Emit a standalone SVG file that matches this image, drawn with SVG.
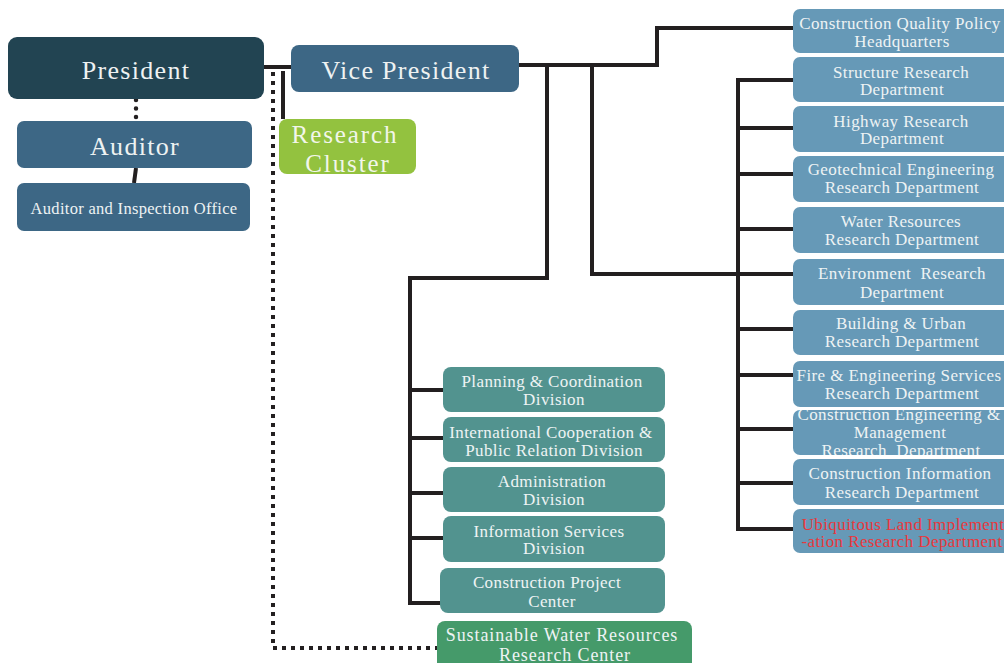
<svg xmlns="http://www.w3.org/2000/svg" width="1004" height="663" viewBox="0 0 1004 663">
<defs>
<style>
.big{font-family:"Liberation Serif","Times New Roman",serif;font-size:26px;letter-spacing:1.3px;fill:#eef2f2;text-anchor:middle}
.rc{font-family:"Liberation Serif","Times New Roman",serif;font-size:25px;letter-spacing:1.9px;fill:#f2f6ea;text-anchor:middle}
.t{font-family:"Liberation Serif","Times New Roman",serif;font-size:17px;letter-spacing:0.4px;fill:#eef3f4;text-anchor:middle}
.red{fill:#e8383d}
.pres{fill:#224452}
.blue{fill:#3d6785}
.lblue{fill:#6699b7}
.teal{fill:#52938f}
.green{fill:#459a6a}
.lime{fill:#93c23f}
.ln{fill:none;stroke:#231f20;stroke-width:4;stroke-linejoin:miter}
.dot{fill:none;stroke:#231f20;stroke-width:4;stroke-dasharray:4 5}
.rdot{fill:none;stroke:#231f20;stroke-width:4.5;stroke-linecap:round;stroke-dasharray:0 8.5}
</style>
<clipPath id="ceclip"><rect x="793" y="410" width="225" height="45" rx="7"/></clipPath>
</defs>
<rect width="1004" height="663" fill="#ffffff"/>

<g id="connectors">
<path class="ln" d="M264,67 H291"/>
<path class="ln" d="M283,71 V119"/>
<path class="dot" d="M273,72 V648 H440"/>
<path class="rdot" d="M136,100 V118"/>
<path class="ln" d="M136,168 L134,183"/>
<path class="ln" d="M518,65 H657 V28 H793"/>
<path class="ln" d="M547,63 V278 H410 V603 H443"/>
<path class="ln" d="M410,390 H443 M410,438 H443 M410,493 H443 M410,538 H443"/>
<path class="ln" d="M592,65 V274 H793"/>
<path class="ln" d="M793,529 H738 V80 H793"/>
<path class="ln" d="M738,128 H793 M738,174 H793 M738,229 H793 M738,329 H793 M738,375 H793 M738,429 H793 M738,483 H793"/>
</g>

<g id="president"><rect class="pres" x="8" y="37" width="256" height="62" rx="9"/><text class="big" x="136" y="79">President</text></g>
<g id="auditor"><rect class="blue" x="17" y="121" width="235" height="47" rx="7"/><text class="big" x="135" y="155">Auditor</text></g>
<g id="audit-office"><rect class="blue" x="17" y="183" width="233" height="48" rx="7"/><text class="t" x="134" y="214" style="font-size:16.5px;letter-spacing:0.3px">Auditor and Inspection Office</text></g>
<g id="vice-president"><rect class="blue" x="291" y="45" width="228" height="47" rx="8"/><text class="big" x="406" y="79">Vice President</text></g>
<g id="research-cluster"><rect class="lime" x="279" y="119" width="137" height="55" rx="8"/><text class="rc" x="345" y="143">Research</text><text class="rc" x="348" y="172">Cluster</text></g>

<g id="cqph"><rect class="lblue" x="793" y="9" width="225" height="44" rx="7"/><text class="t" x="900" y="28.5">Construction Quality Policy</text><text class="t" x="902" y="46.5">Headquarters</text></g>
<g id="structure"><rect class="lblue" x="793" y="57" width="225" height="45" rx="7"/><text class="t" x="901" y="78">Structure Research</text><text class="t" x="902" y="95">Department</text></g>
<g id="highway"><rect class="lblue" x="793" y="106" width="225" height="46" rx="7"/><text class="t" x="901" y="127">Highway Research</text><text class="t" x="902" y="144">Department</text></g>
<g id="geotech"><rect class="lblue" x="793" y="156" width="225" height="46" rx="7"/><text class="t" x="901" y="175">Geotechnical Engineering</text><text class="t" x="902" y="193">Research Department</text></g>
<g id="water"><rect class="lblue" x="793" y="207" width="225" height="46" rx="7"/><text class="t" x="901" y="227">Water Resources</text><text class="t" x="902" y="245">Research Department</text></g>
<g id="environment"><rect class="lblue" x="793" y="259" width="225" height="46" rx="7"/><text class="t" x="902" y="279">Environment&#160; Research</text><text class="t" x="902" y="298">Department</text></g>
<g id="building"><rect class="lblue" x="793" y="310" width="225" height="45" rx="7"/><text class="t" x="901" y="329">Building &amp; Urban</text><text class="t" x="902" y="347">Research Department</text></g>
<g id="fire"><rect class="lblue" x="793" y="361" width="225" height="46" rx="7"/><text class="t" x="899" y="381">Fire &amp; Engineering Services</text><text class="t" x="902" y="399">Research Department</text></g>
<g id="construction-eng"><rect class="lblue" x="793" y="410" width="225" height="45" rx="7"/><g clip-path="url(#ceclip)"><text class="t" x="899" y="420">Construction Engineering &amp;</text><text class="t" x="900" y="438">Management</text><text class="t" x="901" y="456">Research&#160; Department</text></g></g>
<g id="construction-info"><rect class="lblue" x="793" y="459" width="225" height="46" rx="7"/><text class="t" x="900" y="479">Construction Information</text><text class="t" x="902" y="498">Research Department</text></g>
<g id="ubiquitous"><rect class="lblue" x="793" y="509" width="225" height="44" rx="7"/><text class="t red" x="903" y="530">Ubiquitous Land Implement</text><text class="t red" x="902" y="547">-ation Research Department</text></g>

<g id="planning"><rect class="teal" x="443" y="367" width="222" height="45" rx="8"/><text class="t" x="552" y="387">Planning &amp; Coordination</text><text class="t" x="554" y="405">Division</text></g>
<g id="international"><rect class="teal" x="443" y="417" width="222" height="45" rx="8"/><text class="t" x="551" y="438">International Cooperation &amp;</text><text class="t" x="554" y="456">Public Relation Division</text></g>
<g id="administration"><rect class="teal" x="443" y="467" width="222" height="45" rx="8"/><text class="t" x="552" y="487">Administration</text><text class="t" x="554" y="505">Division</text></g>
<g id="information"><rect class="teal" x="443" y="516" width="222" height="46" rx="8"/><text class="t" x="549" y="537">Information Services</text><text class="t" x="554" y="554">Division</text></g>
<g id="construction-project"><rect class="teal" x="440" y="568" width="225" height="45" rx="8"/><text class="t" x="547" y="588">Construction Project</text><text class="t" x="552" y="607">Center</text></g>
<g id="sustainable-water"><rect class="green" x="437" y="621" width="255" height="60" rx="8"/><text class="t" x="562" y="641" style="font-size:18px;letter-spacing:0.9px">Sustainable Water Resources</text><text class="t" x="565" y="661" style="font-size:18px;letter-spacing:0.9px">Research Center</text></g>
</svg>
